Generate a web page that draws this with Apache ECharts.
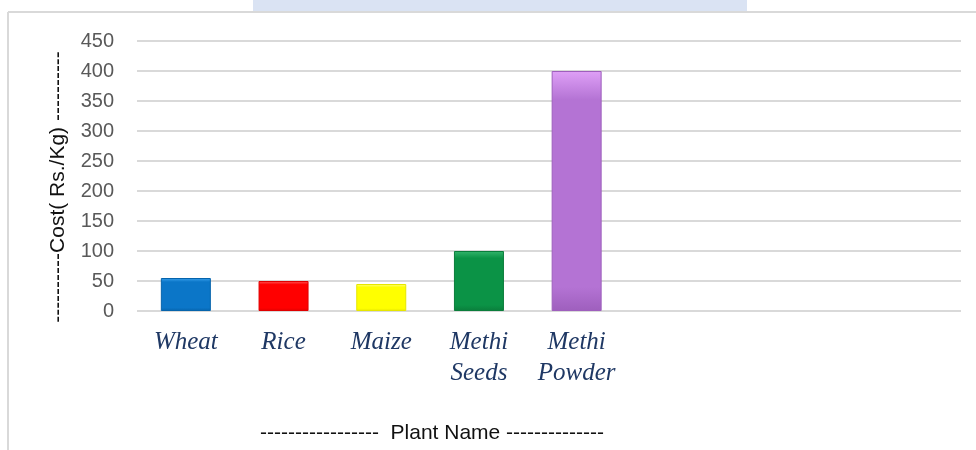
<!DOCTYPE html>
<html>
<head>
<meta charset="utf-8">
<script src="https://cdn.jsdelivr.net/npm/echarts@6/dist/echarts.min.js"></script>
<style>html,body{margin:0;padding:0;background:#fff;}#chart{width:976px;height:450px;}</style>
</head>
<body>
<div id="chart"></div>
<script>
// Data
const categories = ['Wheat', 'Rice', 'Maize', 'Methi\nSeeds', 'Methi\nPowder', '', '', ''];
const costValues = [55, 50, 45, 100, 400, null, null, null];
const yTicks = { min: 0, max: 450, interval: 50 };
const yTitle = '----------Cost( Rs./Kg) ----------';
const xTitle = '-----------------  Plant Name --------------';

const barColors = [
  ['#3aa2ee', '#0b76c8', '#0664ac'],
  ['#ff5a5a', '#ff0000', '#e00000'],
  ['#ffff8a', '#ffff00', '#e6e600'],
  ['#34b56c', '#0b9346', '#0a7d3b'],
  ['#dfa0f7', '#b473d4', '#9e5fbd']
];

function grad(c) {
  return new echarts.graphic.LinearGradient(0, 0, 0, 1, [
    { offset: 0, color: c[0] },
    { offset: 0.12, color: c[1] },
    { offset: 0.9, color: c[1] },
    { offset: 1, color: c[2] }
  ]);
}

const chart = echarts.init(document.getElementById('chart'), null, { renderer: 'canvas' });
const option = {
  backgroundColor: '#ffffff',
  animation: false,
  grid: [
    { left: 137, top: 41, width: 824, height: 270, containLabel: false },
    { left: 137, top: 41, width: 781.6, height: 270, containLabel: false }
  ],
  xAxis: [
    { gridIndex: 0, type: 'category', data: categories, show: false },
    {
      gridIndex: 1, type: 'category', data: categories,
      axisLine: { show: false }, axisTick: { show: false },
      axisLabel: {
        interval: 0, margin: 16,
        fontFamily: 'Liberation Serif', fontStyle: 'italic', fontSize: 25,
        lineHeight: 31, color: '#1f3864'
      }
    }
  ],
  yAxis: [
    {
      gridIndex: 0, type: 'value', min: yTicks.min, max: yTicks.max, interval: yTicks.interval,
      axisLine: { show: false }, axisTick: { show: false },
      axisLabel: { margin: 23, fontFamily: 'Liberation Sans', fontSize: 20, color: '#595959' },
      splitLine: { lineStyle: { color: '#d9d9d9', width: 2 } }
    },
    {
      gridIndex: 1, type: 'value', min: yTicks.min, max: yTicks.max, interval: yTicks.interval,
      show: false, splitLine: { show: false }
    }
  ],
  series: [{
    type: 'bar',
    xAxisIndex: 1, yAxisIndex: 1,
    barWidth: 50,
    data: costValues.map((v, i) => v == null ? null : {
      value: v,
      itemStyle: { color: barColors[i] ? grad(barColors[i]) : '#999', borderColor: barColors[i] ? barColors[i][2] : '#777', borderWidth: 1 }
    })
  }],
  graphic: [
    { type: 'rect', shape: { x: 253, y: 0, width: 494, height: 11 }, style: { fill: '#dae3f3' }, silent: true },
    { type: 'line', shape: { x1: 8, y1: 12, x2: 976, y2: 12 }, style: { stroke: '#d9d9d9', lineWidth: 2 }, silent: true },
    { type: 'line', shape: { x1: 8, y1: 12, x2: 8, y2: 450 }, style: { stroke: '#d9d9d9', lineWidth: 2 }, silent: true },
    {
      type: 'text', x: 58, y: 187, rotation: Math.PI / 2,
      style: { text: yTitle, align: 'center', verticalAlign: 'middle', font: '21px "Liberation Sans"', fill: '#111' }
    },
    {
      type: 'text', x: 432, y: 433,
      style: { text: xTitle, align: 'center', verticalAlign: 'middle', font: '21px "Liberation Sans"', fill: '#111' }
    }
  ]
};
chart.setOption(option);
</script>
</body>
</html>
